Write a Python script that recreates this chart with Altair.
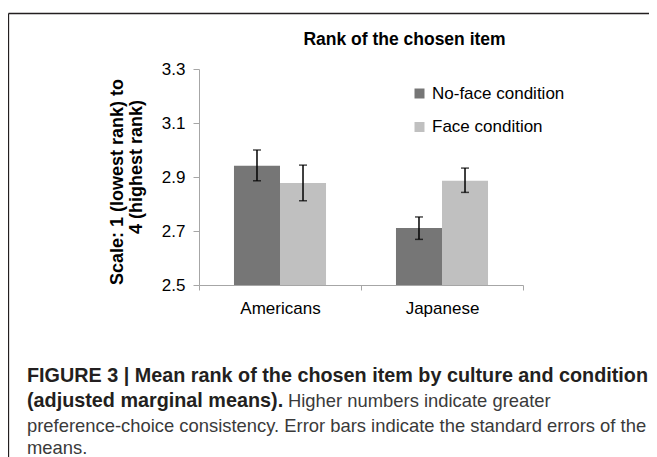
import altair as alt
import pandas as pd

# ---------------- data ----------------
cultures = ["Americans", "Americans", "Japanese", "Japanese"]
conditions = ["No-face condition", "Face condition", "No-face condition", "Face condition"]
means = [2.942, 2.878, 2.711, 2.886]
err_low = [2.886, 2.812, 2.669, 2.843]
err_high = [3.000, 2.944, 2.752, 2.933]

culture_order = ["Americans", "Japanese"]
condition_order = ["No-face condition", "Face condition"]
bar_colors = ["#767676", "#c0c0c0"]
y_ticks = [2.5, 2.7, 2.9, 3.1, 3.3]

chart_title = "Rank of the chosen item"
y_title_lines = ["Scale: 1 (lowest rank) to", "4 (highest rank)"]
caption_bold_1 = "FIGURE 3 | Mean rank of the chosen item by culture and condition"
caption_bold_2 = "(adjusted marginal means)."
caption_normal_2 = "Higher numbers indicate greater"
caption_normal_3 = "preference-choice consistency. Error bars indicate the standard errors of the"
caption_normal_4 = "means."

df = pd.DataFrame({
    "culture": cultures,
    "condition": conditions,
    "mean": means,
    "low": err_low,
    "high": err_high,
})

FONT = "Liberation Sans"

x_enc = alt.X(
    "culture:N",
    sort=culture_order,
    scale=alt.Scale(paddingInner=0, paddingOuter=0),
    axis=alt.Axis(title=None, labelAngle=0, tickBand="extent", grid=False),
)
xoff = alt.XOffset(
    "condition:N",
    sort=condition_order,
    scale=alt.Scale(paddingInner=0, paddingOuter=0.76),
)
y_scale = alt.Scale(domain=[2.5, 3.3], nice=False, zero=False)

bars = alt.Chart(df).mark_bar().encode(
    x=x_enc,
    xOffset=xoff,
    y=alt.Y(
        "mean:Q",
        scale=y_scale,
        axis=alt.Axis(values=y_ticks, format=".1f", title=None, grid=False),
    ),
    y2=alt.datum(2.5),
    color=alt.Color(
        "condition:N",
        sort=condition_order,
        scale=alt.Scale(domain=condition_order, range=bar_colors),
        legend=alt.Legend(
            title=None,
            orient="none",
            legendX=212,
            legendY=16,
            symbolType="square",
            symbolSize=100,
            symbolStrokeWidth=0,
            symbolOpacity=1,
            labelFontSize=17,
            labelFont=FONT,
            labelColor="#000000",
            rowPadding=15.5,
            labelOffset=4,
            padding=0,
        ),
    ),
)

err_rule = alt.Chart(df).mark_rule(color="#000000", strokeWidth=1.5).encode(
    x=x_enc, xOffset=xoff, y=alt.Y("low:Q", scale=y_scale), y2="high:Q"
)
cap_low = alt.Chart(df).mark_tick(color="#000000", thickness=1.5, size=8).encode(
    x=x_enc, xOffset=xoff, y=alt.Y("low:Q", scale=y_scale)
)
cap_high = alt.Chart(df).mark_tick(color="#000000", thickness=1.5, size=8).encode(
    x=x_enc, xOffset=xoff, y=alt.Y("high:Q", scale=y_scale)
)


def txt(s, x, y, size, bold=False, angle=0, align="left", color="#000000"):
    return alt.Chart(pd.DataFrame({"t": [s]})).mark_text(
        font=FONT,
        fontSize=size,
        fontWeight="bold" if bold else "normal",
        align=align,
        baseline="middle",
        angle=angle,
        color=color,
    ).encode(text="t:N", x=alt.value(x), y=alt.value(y))


title_t = txt(chart_title, 205.5, -29, 17.5, bold=True, align="center")
ytitle1 = txt(y_title_lines[0], -81, 113, 18, bold=True, angle=270, align="center")
ytitle2 = txt(y_title_lines[1], -62, 98, 18, bold=True, angle=270, align="center")

cap1 = txt(caption_bold_1, -172, 307, 19.8, bold=True, color="#231f20")
cap2b = txt(caption_bold_2, -172, 332, 19.8, bold=True, color="#231f20")
cap2n = txt(caption_normal_2, 89, 332, 18.4, color="#3a3a3a")
cap3 = txt(caption_normal_3, -172, 357, 18.4, color="#3a3a3a")
cap4 = txt(caption_normal_4, -172, 379, 18.4, color="#3a3a3a")

one = pd.DataFrame({"k": [0]})
border_top = alt.Chart(one).mark_rule(color="#231f20", strokeWidth=1.3).encode(
    x=alt.value(-190.5), x2=alt.value(460), y=alt.value(-55.5)
)
border_left = alt.Chart(one).mark_rule(color="#231f20", strokeWidth=1.3).encode(
    x=alt.value(-190.5), y=alt.value(-55.5), y2=alt.value(400)
)

chart = alt.layer(
    bars, err_rule, cap_low, cap_high,
    title_t, ytitle1, ytitle2,
    cap1, cap2b, cap2n, cap3, cap4,
    border_top, border_left,
).properties(
    width=324,
    height=216,
    autosize=alt.AutoSizeParams(type="none"),
    padding={"left": 191, "top": 61, "right": 126, "bottom": 172},
    background="white",
).configure_view(
    stroke=None
).configure_axis(
    domainColor="#a6a6a6",
    tickColor="#a6a6a6",
    labelFont=FONT,
    labelFontSize=17,
    labelColor="#000000",
    domainWidth=1,
    tickWidth=1,
).configure_axisY(
    tickSize=6, labelPadding=8
).configure_axisX(
    tickSize=5, labelPadding=10
)

chart.save("out.html", embed_options={"renderer": "svg", "actions": False})
